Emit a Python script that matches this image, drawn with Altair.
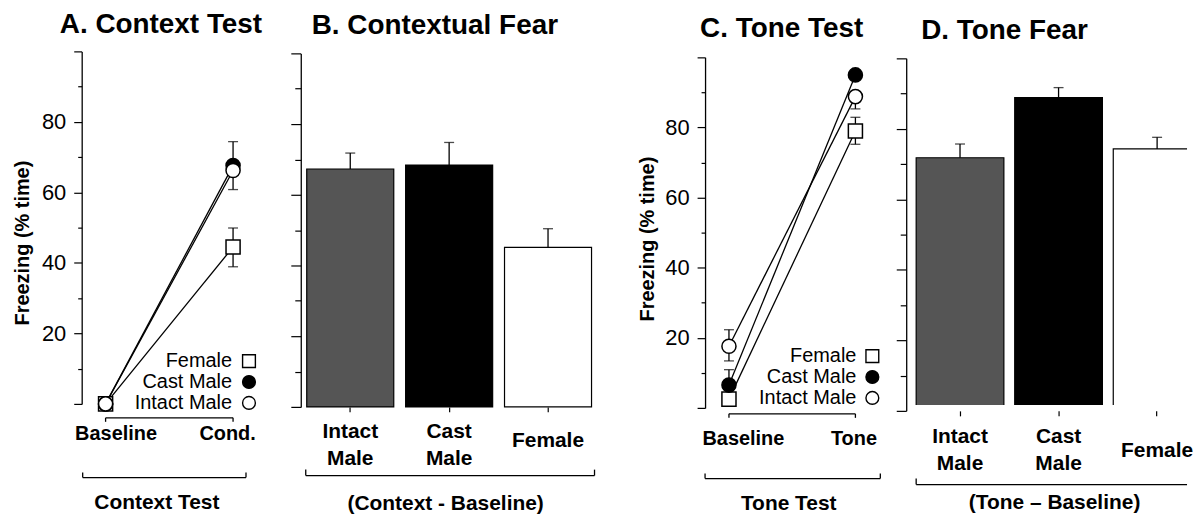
import altair as alt
import pandas as pd

FONT = "Liberation Sans"
INK = "black"

# ---------------- data ----------------
series = ["Female", "Cast Male", "Intact Male"]          # drawing / legend order
series_shapes = ["square", "circle", "circle"]
series_fills = ["white", "black", "white"]

ctx_phases = ["Baseline", "Cond."]
tone_phases = ["Baseline", "Tone"]

# A. Context test - freezing (% time) at [Baseline, Cond.]
ctx_female = [0.0, 44.5]
ctx_cast = [0.0, 67.6]
ctx_intact = [0.0, 66.2]
# visible error-bar extents below / above each mean
ctx_female_lo = [0.0, 5.6]
ctx_female_hi = [0.0, 5.4]
ctx_cast_lo = [0.0, 0.0]
ctx_cast_hi = [0.0, 6.8]
ctx_intact_lo = [0.0, 5.4]
ctx_intact_hi = [0.0, 0.0]

# C. Tone test - freezing (% time) at [Baseline, Tone]
tone_female = [2.5, 79.0]
tone_cast = [6.5, 95.0]
tone_intact = [17.6, 88.8]
tone_female_lo = [0.0, 3.8]
tone_female_hi = [0.0, 3.9]
tone_cast_lo = [0.0, 0.0]
tone_cast_hi = [4.4, 0.0]
tone_intact_lo = [4.2, 3.5]
tone_intact_hi = [4.7, 0.0]

groups = ["Intact Male", "Cast Male", "Female"]
bar_colors = ["#555555", "#000000", "#ffffff"]

# B. Contextual fear (Context - Baseline)
ctx_fear = [67.3, 68.4, 45.1]
ctx_fear_sem = [4.5, 6.4, 5.3]
# D. Tone fear (Tone - Baseline)
tone_fear = [71.8, 88.9, 74.3]
tone_fear_sem = [3.9, 2.8, 3.3]

y_ticks = list(range(0, 101, 10))

H = 355
TITLE_DY = 30


def hrule(x1, x2, y):
    return alt.Chart(pd.DataFrame({"k": [0]})).mark_rule(color=INK, strokeWidth=1.3).encode(
        x=alt.value(x1), x2=alt.value(x2), y=alt.value(y))


def vrule(x, y1, y2):
    return alt.Chart(pd.DataFrame({"k": [0]})).mark_rule(color=INK, strokeWidth=1.3).encode(
        x=alt.value(x), y=alt.value(y1), y2=alt.value(y2))


def panel_title(text, dx, offset):
    return alt.TitleParams(text, anchor="start", frame="group", dx=dx, dy=TITLE_DY, offset=offset,
                           baseline="alphabetic", font=FONT, fontSize=28, fontWeight="bold",
                           color=INK)


def y_axis(labels, major, minor, title=None, title_xy=(0, 0), label_pad=8):
    kw = dict(values=y_ticks, grid=False, domainColor=INK, domainWidth=1.3,
              tickColor=INK, tickWidth=1.2,
              tickSize={"condition": {"test": "datum.value % 20 == 0", "value": major}, "value": minor})
    if labels:
        kw.update(labelExpr="datum.value % 20 == 0 && datum.value > 0 && datum.value < 100 ? datum.label : ''",
                  labelFont=FONT, labelFontSize=22, labelColor=INK, labelPadding=label_pad,
                  title=title, titleX=title_xy[0], titleY=title_xy[1], titleAngle=270,
                  titleAlign="center", titleBaseline="middle", titleFont=FONT,
                  titleFontSize=20, titleFontWeight="bold", titleColor=INK)
    else:
        kw.update(labels=False, title=None)
    return alt.Axis(**kw)


def line_panel(phases, means, los, his, width, x_dom, y_range, label_offsets, axis_off,
               label_pad, x_title, x_title_xy, y_title_xy, title, title_dx, title_offset,
               legend_ys, legend_tx, legend_sx, inner_y, outer):
    rows = []
    for s, m, lo, hi in zip(series, means, los, his):
        for i, ph in enumerate(phases):
            rows.append(dict(series=s, idx=i, phase=ph, value=m[i],
                             low=m[i] - lo[i], high=m[i] + hi[i], elo=lo[i], ehi=hi[i]))
    df = pd.DataFrame(rows)
    label_expr = "[" + ",".join("'%s'" % p for p in phases) + "][datum.value]"
    xs = alt.Scale(domain=x_dom, nice=False, zero=False)
    xa = alt.Axis(values=[0, 1], labelExpr=label_expr, domain=False, ticks=False, tickSize=0,
                  grid=False, labelPadding=label_pad, labelBaseline="middle", labelFont=FONT,
                  labelFontSize=20, labelFontWeight="bold", labelColor=INK, labelFlush=False,
                  labelOverlap=False,
                  labelOffset={"condition": {"test": "datum.value == 0", "value": label_offsets[0]},
                               "value": label_offsets[1]},
                  offset=axis_off, title=x_title, titleX=x_title_xy[0], titleY=x_title_xy[1],
                  titleAlign="center", titleBaseline="middle", titleFont=FONT, titleFontSize=21,
                  titleFontWeight="bold", titleColor=INK)
    ys = alt.Scale(domain=[0, 100], nice=False, zero=False, range=y_range)
    ya = y_axis(True, 8, 4, "Freezing (% time)", y_title_xy)

    def X(f):
        return alt.X(f, scale=xs, axis=xa)

    def Y(f):
        return alt.Y(f, scale=ys, axis=ya)

    base = alt.Chart(df)
    lines = base.mark_line(color=INK, strokeWidth=1.3).encode(
        x=X("idx:Q"), y=Y("value:Q"), detail="series:N")
    err = base.transform_filter("datum.high > datum.low").mark_rule(
        color=INK, strokeWidth=1.3).encode(x=X("idx:Q"), y=Y("low:Q"), y2="high:Q")
    cap_lo = base.transform_filter("datum.elo > 0").mark_tick(
        orient="horizontal", color=INK, size=10, thickness=1.3).encode(x=X("idx:Q"), y=Y("low:Q"))
    cap_hi = base.transform_filter("datum.ehi > 0").mark_tick(
        orient="horizontal", color=INK, size=10, thickness=1.3).encode(x=X("idx:Q"), y=Y("high:Q"))
    pts = base.mark_point(filled=True, size=200, stroke=INK, strokeWidth=1.5, opacity=1).encode(
        x=X("idx:Q"), y=Y("value:Q"),
        shape=alt.Shape("series:N", scale=alt.Scale(domain=series, range=series_shapes), legend=None),
        fill=alt.Fill("series:N", scale=alt.Scale(domain=series, range=series_fills), legend=None))

    layers = [lines, err, cap_lo, cap_hi, pts]
    for s, shp, fl, ly in zip(series, series_shapes, series_fills, legend_ys):
        ldf = pd.DataFrame({"label": [s]})
        layers.append(alt.Chart(ldf).mark_text(align="right", baseline="middle", font=FONT,
                                               fontSize=20, color=INK).encode(
            text="label:N", x=alt.value(legend_tx), y=alt.value(ly)))
        layers.append(alt.Chart(ldf).mark_point(shape=shp, filled=True, fill=fl, stroke=INK,
                                                strokeWidth=1.4, size=165, opacity=1).encode(
            x=alt.value(legend_sx), y=alt.value(ly)))

    # bracket joining the two phases
    span = pd.DataFrame({"idx": [0], "idx_end": [1]})
    ends = pd.DataFrame({"idx": [0, 1]})
    layers.append(alt.Chart(span).mark_rule(color=INK, strokeWidth=1.3).encode(
        x=X("idx:Q"), x2="idx_end:Q", y=alt.value(inner_y)))
    layers.append(alt.Chart(ends).mark_rule(color=INK, strokeWidth=1.3).encode(
        x=X("idx:Q"), y=alt.value(inner_y), y2=alt.value(inner_y + 4)))
    ox1, ox2, oy = outer
    layers += [hrule(ox1, ox2, oy), vrule(ox1, oy - 5, oy), vrule(ox2, oy - 5, oy)]

    return alt.layer(*layers).properties(
        width=width, height=H, title=panel_title(title, title_dx, title_offset))


def bar_panel(values, sems, width, x_range, pad_inner, y_range, axis_off, label_pads,
              x_title, x_title_xy, title, title_dx, title_offset, bracket, clip):
    df = pd.DataFrame({"group": groups, "value": values,
                       "top": [v + s for v, s in zip(values, sems)]})
    xs = alt.Scale(domain=groups, range=x_range, paddingInner=pad_inner, paddingOuter=0)
    xa = alt.Axis(labelExpr="split(datum.label, ' ')", labelAngle=0, domain=False, ticks=True,
                  tickSize=5, tickColor=INK, tickWidth=1.2, grid=False,
                  labelPadding={"condition": {"test": "indexof(datum.label, ' ') < 0",
                                              "value": label_pads[1]},
                                "value": label_pads[0]},
                  labelBaseline="middle", labelLineHeight=27, labelFont=FONT, labelFontSize=21,
                  labelFontWeight="bold", labelColor=INK, offset=axis_off, title=x_title,
                  titleX=x_title_xy[0], titleY=x_title_xy[1], titleAlign="center",
                  titleBaseline="middle", titleFont=FONT, titleFontSize=21,
                  titleFontWeight="bold", titleColor=INK)
    ys = alt.Scale(domain=[0, 100], nice=False, zero=False, range=y_range)
    ya = y_axis(False, 10, 6)

    def X():
        return alt.X("group:N", sort=groups, scale=xs, axis=xa)

    def Y(f):
        return alt.Y(f, scale=ys, axis=ya)

    base = alt.Chart(df)
    bars = base.mark_bar(stroke=INK, strokeWidth=1.2, clip=clip).encode(
        x=X(), y=Y("value:Q"),
        color=alt.Color("group:N", scale=alt.Scale(domain=groups, range=bar_colors), legend=None))
    err = base.mark_rule(color=INK, strokeWidth=1.3).encode(x=X(), y=Y("value:Q"), y2="top:Q")
    cap = base.mark_tick(orient="horizontal", size=10, thickness=1.3, color=INK).encode(
        x=X(), y=Y("top:Q"))
    bx1, bx2, by = bracket
    layers = [bars, err, cap, hrule(bx1, bx2, by), vrule(bx1, by - 6, by)]
    if bx2 < width:
        layers.append(vrule(bx2, by - 6, by))
    return alt.layer(*layers).properties(
        width=width, height=H, title=panel_title(title, title_dx, title_offset))


panel_a = line_panel(
    ctx_phases, [ctx_female, ctx_cast, ctx_intact],
    [ctx_female_lo, ctx_cast_lo, ctx_intact_lo], [ctx_female_hi, ctx_cast_hi, ctx_intact_hi],
    width=210, x_dom=[-0.1875, 1.453], y_range=[354, 0], label_offsets=[10, -6], axis_off=0,
    label_pad=29, x_title="Context Test", x_title_xy=(75, 98), y_title_xy=(-59, 192),
    title="A. Context Test", title_dx=-22, title_offset=19.5,
    legend_ys=[311, 332, 353], legend_tx=151, legend_sx=168, inner_y=368, outer=(1, 165, 428))

panel_b = bar_panel(
    ctx_fear, ctx_fear_sem, width=396, x_range=[6, 292], pad_inner=0.12, y_range=[357, 2],
    axis_off=2, label_pads=[20, 29], x_title="(Context - Baseline)", x_title_xy=(145, 97),
    title="B. Contextual Fear", title_dx=11, title_offset=19.5, bracket=(5, 295, 426), clip=False)

panel_c = line_panel(
    tone_phases, [tone_female, tone_cast, tone_intact],
    [tone_female_lo, tone_cast_lo, tone_intact_lo], [tone_female_hi, tone_cast_hi, tone_intact_hi],
    width=192, x_dom=[-0.189, 1.323], y_range=[358, 6], label_offsets=[14, -2], axis_off=3,
    label_pad=31, x_title="Tone Test", x_title_xy=(83.5, 96), y_title_xy=(-58, 188),
    title="C. Tone Test", title_dx=-5, title_offset=16,
    legend_ys=[306, 327, 348], legend_tx=152, legend_sx=168, inner_y=364, outer=(0, 176, 429))

panel_d = bar_panel(
    tone_fear, tone_fear_sem, width=282, x_range=[10, 296], pad_inner=0.11, y_range=[361, 7],
    axis_off=6, label_pads=[21, 35], x_title="(Tone \u2013 Baseline)", x_title_xy=(148.5, 92),
    title="D. Tone Fear", title_dx=15, title_offset=14.5, bracket=(10, 282, 435), clip=True)

chart = alt.hconcat(panel_a, panel_b, panel_c, panel_d, spacing=10, bounds="flush").properties(
    padding={"left": 5, "top": 1.5, "right": 0, "bottom": 0}
).configure_view(stroke=None)

chart.save("out.html", embed_options={"renderer": "svg", "actions": False})
